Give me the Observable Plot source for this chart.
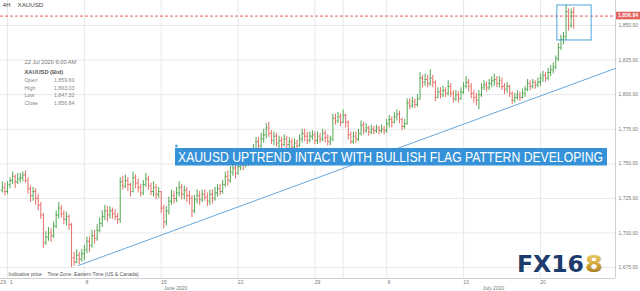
<!DOCTYPE html>
<html><head><meta charset="utf-8">
<script src="https://cdn.jsdelivr.net/npm/d3@7"></script>
<script src="https://cdn.jsdelivr.net/npm/@observablehq/plot@0.6"></script>
<style>
html,body{margin:0;padding:0;background:#fff;}
#chart{position:relative;width:640px;height:291px;overflow:hidden;}
svg{display:block;}
</style></head><body><div id="chart"></div>
<script>
// ---- data (4H XAUUSD bars, bar index 0 = first bar of 1 Jun 2020) ----
const firstIndex = -2;
const firstOpen = 1731;
const closes = [1733,1730,
1735,1738,1741,1737,1739,1740, 1742,1738,1732,1727,1730,1725, 1720,1713,1693,1697,1700,1698,
1705,1713,1718,1714,1710,1712, 1706,1682,1679,1684,1681,1685, 1688,1694,1691,1698,1696,1702,
1707,1712,1716,1713,1716,1714, 1712,1710,1737,1734,1738,1735, 1730,1740,1736,1733,1729,1735,
1739,1734,1730,1733,1728,1730, 1718,1708,1716,1723,1727,1725, 1729,1733,1728,1731,1727,1725,
1716,1724,1727,1724,1728,1726, 1723,1728,1725,1729,1732,1730, 1735,1741,1738,1744,1747,1743,
1748,1751,1749,1754,1752,1756, 1760,1766,1763,1768,1771,1776, 1772,1767,1770,1765,1767,1764,
1768,1764,1766,1762,1765,1763, 1768,1772,1770,1767,1770,1771, 1767,1770,1768,1772,1769,1766,
1768,1783,1781,1784,1780,1785, 1780,1771,1766,1770,1768,1772, 1778,1774,1776,1773,1775,1774,
1776,1774,1775,1774,
1779,1782,1780,1784,1786,1782, 1777,1779,1794,1792,1795,1793, 1797,1812,1809,1811,1808,1812,
1809,1798,1802,1800,1803,1801, 1806,1801,1797,1800,1797,1802, 1806,1809,1806,1801,1798,1796,
1800,1805,1807,1805,1808,1810, 1811,1808,1810,1806,1804,1806, 1801,1796,1798,1800,1798,1801,
1804,1808,1806,1809,1807,1809, 1812,1814,1812,1816,1818,1820, 1826,1834,1840,1842,1860,1850,
1859.6,1856.84];
const highs = [1737,1736,
1737,1740,1744,1742,1743,1743, 1744,1745,1740,1734,1733,1732, 1728,1722,1714,1701,1704,1703,
1708,1716,1722,1720,1716,1715, 1713,1707,1686,1688,1686,1688, 1691,1697,1697,1702,1702,1706,
1711,1716,1720,1719,1719,1718, 1717,1714,1740,1741,1742,1740, 1736,1744,1742,1739,1735,1738,
1743,1741,1736,1737,1735,1733, 1730,1720,1719,1726,1731,1730, 1733,1737,1735,1734,1733,1730,
1727,1727,1731,1730,1731,1731, 1729,1731,1731,1733,1735,1735, 1738,1744,1745,1748,1751,1750,
1752,1754,1755,1757,1757,1759, 1764,1769,1769,1772,1775,1779, 1780,1774,1773,1772,1770,1769,
1771,1770,1769,1768,1768,1767, 1771,1775,1775,1773,1773,1774, 1773,1773,1772,1775,1774,1771,
1770,1786,1786,1787,1786,1789, 1786,1781,1773,1773,1773,1775, 1781,1780,1779,1777,1778,1777,
1778,1777,1778,1777,
1782,1785,1784,1787,1789,1788, 1783,1782,1797,1797,1798,1797, 1800,1816,1814,1815,1814,1818,
1814,1810,1805,1805,1806,1805, 1810,1808,1803,1803,1802,1805, 1809,1813,1811,1808,1803,1801,
1803,1808,1810,1809,1811,1813, 1815,1813,1813,1812,1808,1809, 1807,1802,1801,1803,1802,1804,
1806,1811,1810,1811,1810,1812, 1815,1817,1816,1819,1821,1823, 1828,1837,1843,1845,1865,1862,
1862,1863.03];
const lows = [1729,1727,
1728,1732,1735,1732,1735,1736, 1737,1736,1728,1722,1723,1720, 1716,1710,1689,1691,1694,1693,
1696,1703,1710,1711,1706,1705, 1702,1675,1676,1678,1677,1679, 1680,1685,1686,1689,1692,1694,
1700,1704,1709,1708,1710,1710, 1709,1706,1707,1731,1732,1730, 1726,1729,1732,1729,1726,1727,
1733,1731,1727,1726,1724,1725, 1714,1703,1705,1713,1720,1721, 1722,1726,1724,1724,1722,1720,
1711,1714,1721,1720,1722,1723, 1719,1720,1721,1723,1726,1727, 1728,1733,1734,1736,1741,1739,
1742,1745,1745,1747,1748,1750, 1753,1757,1759,1760,1765,1768, 1769,1764,1763,1762,1761,1760,
1762,1761,1760,1758,1760,1759, 1762,1765,1766,1764,1765,1767, 1764,1764,1765,1766,1765,1763,
1763,1766,1778,1779,1777,1779, 1776,1767,1764,1764,1765,1766, 1770,1771,1772,1770,1771,1771,
1772,1771,1772,1771,
1772,1776,1776,1779,1781,1779, 1774,1775,1778,1789,1790,1790, 1791,1796,1805,1806,1805,1806,
1805,1795,1797,1797,1798,1798, 1799,1798,1794,1795,1794,1796, 1800,1804,1802,1797,1794,1792,
1789,1798,1803,1802,1803,1805, 1806,1805,1805,1803,1800,1801, 1798,1793,1794,1796,1795,1797,
1798,1802,1803,1804,1804,1805, 1806,1809,1809,1810,1813,1815, 1818,1824,1832,1836,1839,1846,
1848,1847.32];

const yTicks = [1675,1700,1725,1750,1775,1800,1825,1850];
const gridX = [0,30,60,90,120,131,148,178,208];
const dayTickPos = [-1.7,1.4,31,61,91,121,149,179,209];
const dayTickLabels = ["29","1","8","15","22","29","6","13","20"];
const monthPos = [65.6,189.7];
const monthLabels = ["June 2020","July 2020"];
const trendX = [27.7,237.3];
const trendY = [1676.5,1819];
const boxX = [214.6,228];
const boxY = [1839.2,1864.5];
const lastPrice = 1856.84;
const headerLabels = ["4H","XAUUSD"];
const infoTitle = "22 Jul 2020 6:00 AM";
const infoSymbol = "XAUUSD (Bid)";
const infoLabels = ["Open","High","Low","Close"];
const infoValues = ["1,859.60","1,863.03","1,847.32","1,856.84"];
const footerLabels = ["Indicative price","Time Zone: Eastern Time (US & Canada)"];
const headline = "XAUUSD UPTREND INTACT WITH BULLISH FLAG PATTERN DEVELOPING";
const logoMain = "FX16", logoTail = "8";

// ---- build tables ----
const bars = closes.map((c,k)=>({i:firstIndex+k, open:k===0?firstOpen:closes[k-1], high:highs[k], low:lows[k], close:c}));
const col = d => d.close >= d.open ? "#52a852" : "#e56d68";
const dayTicks = dayTickPos.map((x,k)=>({x, label:dayTickLabels[k]}));
const months = monthPos.map((x,k)=>({x, label:monthLabels[k]}));
const trend = trendX.map((x,k)=>({x, y:trendY[k]}));
const box = [{x1:boxX[0], x2:boxX[1], y1:boxY[0], y2:boxY[1]}];
const FONT = "Liberation Sans, Arial, sans-serif";
const fmt = d3.format(",.2f");

const infoMarks = [
  Plot.text([infoTitle], {frameAnchor:"top-left", dx:24, dy:62, lineAnchor:"middle", textAnchor:"start", fontSize:5.7, fill:"#777"}),
  Plot.text([infoSymbol], {frameAnchor:"top-left", dx:24, dy:72, lineAnchor:"middle", textAnchor:"start", fontSize:5.7, fontWeight:"bold", fill:"#555"})
];
const rowY = [80,87.5,95,102.5];
infoLabels.forEach((l,k)=>{
  infoMarks.push(Plot.text([l], {frameAnchor:"top-left", dx:24, dy:rowY[k], lineAnchor:"middle", textAnchor:"start", fontSize:5.3, fill:"#888"}));
  infoMarks.push(Plot.text([infoValues[k]], {frameAnchor:"top-left", dx:74, dy:rowY[k], lineAnchor:"middle", textAnchor:"end", fontSize:5.3, fill:"#888"}));
});

const chart = Plot.plot({
  width:640, height:291, marginLeft:0, marginRight:25, marginTop:0, marginBottom:13,
  style:{fontFamily:FONT, background:"#fff", overflow:"visible"},
  x:{domain:[-2.73,237.3], axis:null},
  y:{domain:[1667.1,1868.1], axis:null},
  marks:[
    Plot.ruleY(yTicks, {stroke:"#e8e8e8"}),
    Plot.ruleX(gridX, {stroke:"#e8e8e8"}),
    Plot.ruleX([237.3], {stroke:"#d0d0d0"}),
    Plot.ruleY([1667.1], {stroke:"#d0d0d0"}),
    Plot.text(yTicks, {y:d=>d, text:d=>fmt(d), frameAnchor:"right", textAnchor:"start", dx:3, fontSize:5, fill:"#777"}),
    Plot.text(dayTicks, {x:"x", text:"label", frameAnchor:"bottom", lineAnchor:"middle", dy:4, fontSize:5, fill:"#777"}),
    Plot.text(months, {x:"x", text:"label", frameAnchor:"bottom", lineAnchor:"middle", dy:10, fontSize:5, fill:"#777"}),
    Plot.ruleY([lastPrice], {stroke:"#e2625c", strokeDasharray:"3,2"}),
    Plot.line(trend, {x:"x", y:"y", stroke:"#6aa8dc", strokeWidth:1}),
    Plot.ruleX(bars, {x:"i", y1:"low", y2:"high", stroke:col, strokeWidth:1}),
    Plot.ruleY(bars, {y:"open", x1:d=>d.i-0.45, x2:"i", stroke:col, strokeWidth:1}),
    Plot.ruleY(bars, {y:"close", x1:"i", x2:d=>d.i+0.45, stroke:col, strokeWidth:1}),
    Plot.rect(box, {x1:"x1", x2:"x2", y1:"y1", y2:"y2", fill:"none", stroke:"#4fa6dd", strokeWidth:1}),
    Plot.text([headerLabels[0]], {frameAnchor:"top-left", dx:2, dy:5, lineAnchor:"middle", textAnchor:"start", fontSize:6.2, fill:"#444"}),
    Plot.text([headerLabels[1]], {frameAnchor:"top-left", dx:17, dy:5, lineAnchor:"middle", textAnchor:"start", fontSize:6.2, fill:"#444"}),
    Plot.text([footerLabels[0]], {frameAnchor:"top-left", dx:8, dy:274, lineAnchor:"middle", textAnchor:"start", fontSize:5, fill:"#555"}),
    Plot.text([footerLabels[1]], {frameAnchor:"top-left", dx:47, dy:274, lineAnchor:"middle", textAnchor:"start", fontSize:5, fill:"#555"}),
    ...infoMarks
  ]
});
document.getElementById("chart").appendChild(chart);

// ---- overlays drawn into the same svg ----
const svg = d3.select(chart);
const defs = svg.append("defs");
const g = defs.append("linearGradient").attr("id","gold").attr("x1",0).attr("y1",0).attr("x2",0).attr("y2",1);
g.append("stop").attr("offset","0%").attr("stop-color","#f3d67a");
g.append("stop").attr("offset","50%").attr("stop-color","#d6a83c");
g.append("stop").attr("offset","100%").attr("stop-color","#8f6a1c");

// price tag on right axis
const py = chart.scale("y").apply(lastPrice);
svg.append("rect").attr("x",616).attr("y",py-3.8).attr("width",24).attr("height",7.6).attr("fill","#e2625c");
svg.append("text").attr("x",618).attr("y",py+1.8).attr("text-anchor","start").attr("font-family",FONT).attr("font-size",5.2).attr("font-weight","bold").attr("fill","#fff").text(fmt(lastPrice));

// headline banner
svg.append("rect").attr("x",175).attr("y",148).attr("width",432).attr("height",17.5).attr("fill","#3592d8");
svg.append("circle").attr("cx",176.5).attr("cy",146).attr("r",1.4).attr("fill","#5aa7de");
svg.append("text").attr("x",178).attr("y",162).attr("text-anchor","start").attr("font-family",FONT).attr("font-size",14).attr("fill","#fff")
  .attr("textLength",425).attr("lengthAdjust","spacingAndGlyphs").text(headline);

// logo
svg.append("text").attr("x",517).attr("y",272).attr("text-anchor","start").attr("font-family","DejaVu Sans, sans-serif").attr("font-weight","bold").attr("font-size",23)
  .attr("fill","#1d3c6c").attr("textLength",67).attr("lengthAdjust","spacingAndGlyphs").text(logoMain);
svg.append("text").attr("x",585).attr("y",272).attr("text-anchor","start").attr("font-family","DejaVu Sans, sans-serif").attr("font-weight","bold").attr("font-size",23)
  .attr("fill","url(#gold)").attr("textLength",18).attr("lengthAdjust","spacingAndGlyphs").text(logoTail);
</script></body></html>
